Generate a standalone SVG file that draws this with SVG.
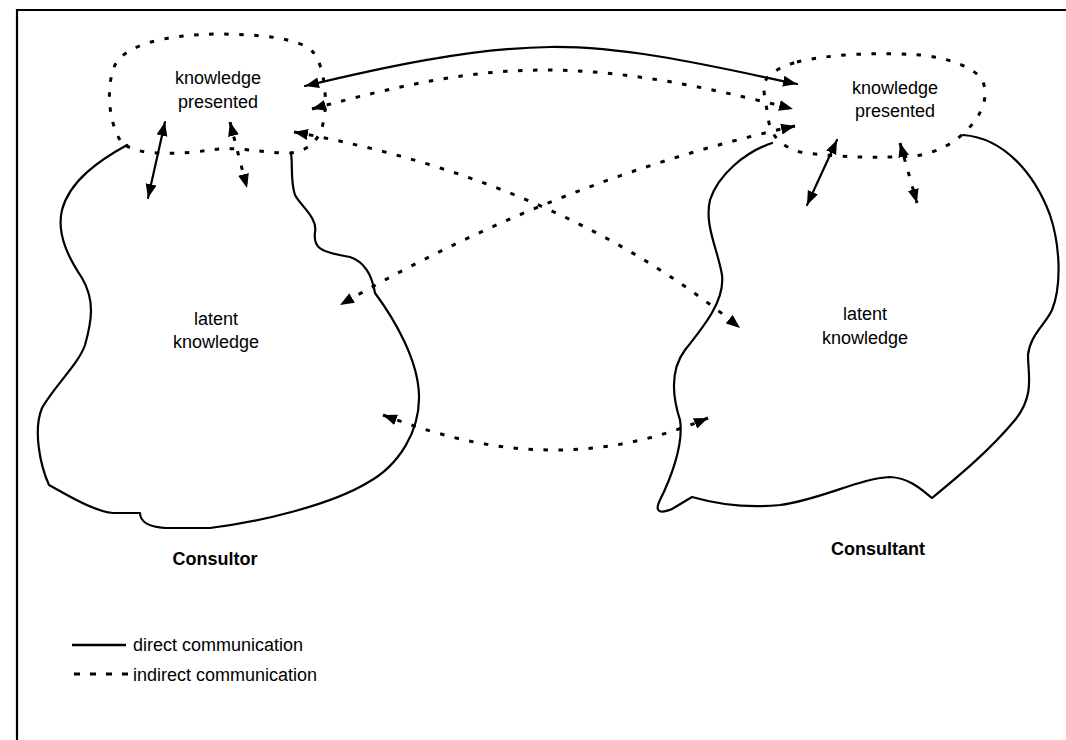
<svg xmlns="http://www.w3.org/2000/svg" width="1066" height="740" viewBox="0 0 1066 740">
  <style>
    .solid { fill: none; stroke: #000; stroke-width: 2.2; stroke-linejoin: round; stroke-linecap: round; }
    .dots { fill: none; stroke: #000; stroke-width: 3; stroke-dasharray: 4.5 10.5; }
    .arrow { marker-start: url(#head); marker-end: url(#head); }
    .lbl { font-family: "Liberation Sans", Arial, sans-serif; font-size: 18px; fill: #000; text-anchor: middle; }
    .name { font-family: "Liberation Sans", Arial, sans-serif; font-size: 18px; font-weight: bold; fill: #000; text-anchor: middle; }
    .legend { font-family: "Liberation Sans", Arial, sans-serif; font-size: 18px; fill: #000; }
  </style>
  <defs>
    <marker id="head" markerUnits="userSpaceOnUse" markerWidth="15" markerHeight="12" refX="14" refY="5.5" orient="auto-start-reverse">
      <path d="M0,0 L14,5.5 L0,11 Z" fill="#000"/>
    </marker>
  </defs>

  <rect width="1066" height="740" fill="#fff"/>

  <!-- open frame: top and left edges only -->
  <g id="frame">
    <path d="M17,740 L17,10 L1066,10" fill="none" stroke="#000" stroke-width="2.2"/>
  </g>

  <!-- left party -->
  <g id="consultor">
    <path id="consultor-presented" class="dots" d="M120,140 C108,120 106,85 115,65 C125,45 165,35 215,34 C260,34 300,38 313,52 C325,65 330,110 320,133 C312,148 300,152 290,153 C260,153 240,146 210,150 C185,154 150,155 133,149 C126,146 122,143 120,140 Z"/>
    <path id="consultor-latent" class="solid" d="M127,145 C100,160 70,180 62,210 C56,235 70,260 82,278 C95,300 92,320 85,345 C78,365 55,385 42,408 C33,430 40,465 49,485 L67,495 C85,505 100,512 113,513 L140,513 C140,522 150,527 165,528 L210,528 C260,522 330,505 367,483 C400,465 420,430 419,395 C418,360 395,320 375,293 C372,275 365,262 350,257 C320,252 313,248 315,232 C318,218 300,205 295,195 C290,180 293,165 291,153"/>
    <text class="lbl" x="218" y="84">knowledge</text>
    <text class="lbl" x="218" y="108">presented</text>
    <text class="lbl" x="216" y="325">latent</text>
    <text class="lbl" x="216" y="348">knowledge</text>
    <text class="name" x="215" y="565">Consultor</text>
  </g>

  <!-- right party -->
  <g id="consultant">
    <path id="consultant-presented" class="dots" d="M797,62 C830,54 880,52 920,55 C950,58 975,68 982,80 C990,95 982,115 967,130 C955,142 940,152 915,156 C880,158 840,158 800,152 C780,146 770,135 768,117 C766,100 760,85 768,77 C775,70 785,65 797,62 Z"/>
    <path id="consultant-latent" class="solid" d="M772,143 C745,152 718,175 710,200 C704,225 718,250 722,275 C725,300 705,325 685,350 C670,370 672,395 680,420 C684,445 670,480 660,500 C654,512 660,514 672,509 L692,497 C720,505 750,508 780,505 C820,500 860,478 890,477 C910,478 922,490 932,498 C960,475 990,450 1015,420 C1035,395 1028,375 1028,355 C1030,335 1045,325 1052,310 C1062,285 1060,245 1050,215 C1035,175 1005,138 963,135"/>
    <text class="lbl" x="895" y="94">knowledge</text>
    <text class="lbl" x="895" y="117">presented</text>
    <text class="lbl" x="865" y="320">latent</text>
    <text class="lbl" x="865" y="344">knowledge</text>
    <text class="name" x="878" y="555">Consultant</text>
  </g>

  <!-- communication paths -->
  <g id="connectors">
    <path class="solid arrow" d="M305,86 C380,68 470,48 550,47 C630,46 720,68 797,84"/>
    <path class="dots arrow" d="M312,109 C400,85 470,70 545,70 C620,70 700,85 793,109"/>
    <path class="dots arrow" d="M294,132 Q560,180 740,328"/>
    <path class="dots arrow" d="M795,126 Q560,178 340,305"/>
    <path class="dots arrow" d="M383,415 C450,440 500,450 555,450 C610,450 660,438 708,418"/>
    <path class="solid arrow" d="M165,122 L148,198"/>
    <path class="dots arrow" d="M230,122 L247,188"/>
    <path class="solid arrow" d="M837,140 L807,205"/>
    <path class="dots arrow" d="M900,143 L917,203"/>
  </g>

  <!-- key -->
  <g id="legend">
    <line x1="72" y1="645" x2="126" y2="645" stroke="#000" stroke-width="2.6"/>
    <text class="legend" x="133" y="651">direct communication</text>
    <line x1="74" y1="674" x2="128" y2="674" stroke="#000" stroke-width="2.8" stroke-dasharray="6 10"/>
    <text class="legend" x="133" y="681">indirect communication</text>
  </g>
</svg>
